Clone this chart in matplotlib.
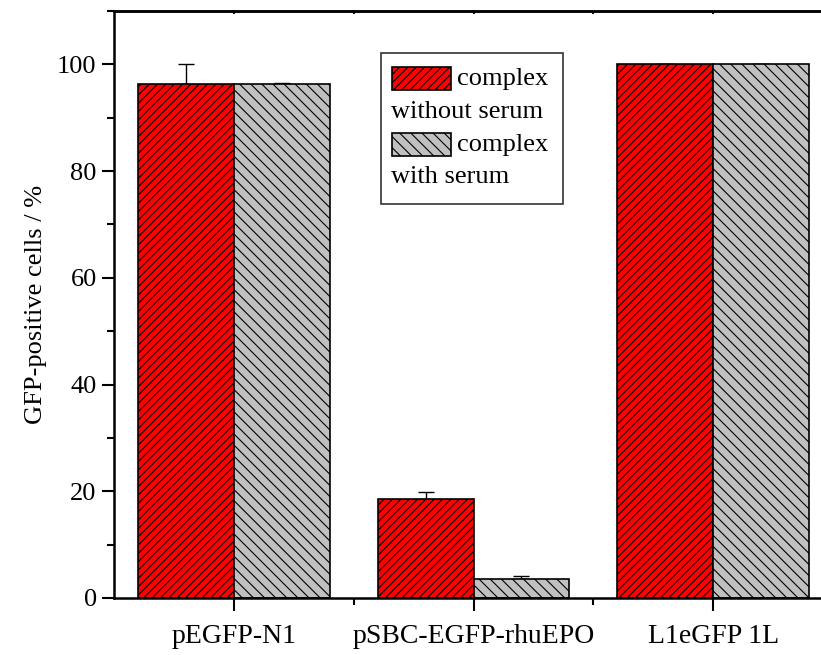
import matplotlib
matplotlib.use("Agg")
import matplotlib.pyplot as plt
from matplotlib.patches import Rectangle
from matplotlib.ticker import MultipleLocator, FixedLocator
import numpy as np

categories = ["pEGFP-N1", "pSBC-EGFP-rhuEPO", "L1eGFP 1L"]
without_serum = [96.4, 18.5, 100.0]
without_serum_err = [3.6, 1.3, 0.0]
with_serum = [96.3, 3.6, 100.0]
with_serum_err = [0.3, 0.6, 0.0]
legend_labels = [("complex", "without serum"), ("complex", "with serum")]
y_label = "GFP-positive cells / %"

plt.rcParams['font.family'] = ['Liberation Serif', 'DejaVu Serif']
plt.rcParams['hatch.linewidth'] = 0.8
plt.rcParams['hatch.color'] = 'black'

W, H = 821, 655
fig = plt.figure(figsize=(W / 100, H / 100), dpi=100)

def fx(px):
    return px / W

def fy(py):
    return 1 - py / H

ax = fig.add_axes([fx(114), fy(598), fx(833) - fx(114), fy(11) - fy(598)])

x = np.arange(len(categories))
bw = 0.4
red_hatch = '////'
gray_hatch = '\\\\\\'
ax.bar(x - bw / 2, without_serum, bw, color='#FF0000', edgecolor='black',
       linewidth=1.2, hatch=red_hatch, zorder=2)
ax.bar(x + bw / 2, with_serum, bw, color='#C0C0C0', edgecolor='black',
       linewidth=1.2, hatch=gray_hatch, zorder=2)
ax.errorbar(x - bw / 2, without_serum, yerr=[np.zeros(3), without_serum_err],
            fmt='none', ecolor='black', elinewidth=1, capsize=6, capthick=1, zorder=1)
ax.errorbar(x + bw / 2, with_serum, yerr=[np.zeros(3), with_serum_err],
            fmt='none', ecolor='black', elinewidth=1, capsize=6, capthick=1, zorder=1)

ax.set_xlim(-0.5, 2.5)
ax.set_ylim(0, 110)
ax.set_xticks(x)
ax.set_xticklabels(categories, fontsize=20)
ax.xaxis.set_minor_locator(FixedLocator([0.5, 1.5]))
ax.yaxis.set_minor_locator(MultipleLocator(10))
ax.set_yticks([0, 20, 40, 60, 80, 100])
ax.tick_params(axis='y', labelsize=19)
ax.tick_params(axis='both', which='major', direction='out', length=9, width=1.5)
ax.tick_params(axis='both', which='minor', direction='out', length=5, width=1.5)
ax.tick_params(axis='x', which='major', pad=10)
ax.set_ylabel(y_label, fontsize=19, labelpad=7)

for s in ax.spines.values():
    s.set_linewidth(1.8)
ax.spines['right'].set_visible(False)

# top ticks (small, inward)
ax_top = ax.secondary_xaxis('top')
ax_top.set_xticks([0, 0.5, 1, 1.5, 2])
ax_top.tick_params(direction='in', length=2, width=1.5, labeltop=False)
ax_top.spines['top'].set_linewidth(1.8)

# Legend (drawn manually to mimic wrapped labels)
fig.add_artist(Rectangle((fx(381), fy(204)), fx(563) - fx(381), fy(53) - fy(204),
                         transform=fig.transFigure, facecolor='white',
                         edgecolor='#333333', linewidth=1.2, zorder=5))
patch_specs = [('#FF0000', red_hatch, 67, 90), ('#C0C0C0', gray_hatch, 133, 156)]
line_y = [(79, 112), (145, 177)]
for (fc, hatch, top, bot), (l1, l2), (y1, y2) in zip(patch_specs, legend_labels, line_y):
    fig.add_artist(Rectangle((fx(392), fy(bot)), fx(451) - fx(392), fy(top) - fy(bot),
                             transform=fig.transFigure, facecolor=fc,
                             edgecolor='black', linewidth=1.2, hatch=hatch, zorder=6))
    fig.text(fx(457), fy(y1), l1, fontsize=19, va='center', ha='left', zorder=7)
    fig.text(fx(391), fy(y2), l2, fontsize=19, va='center', ha='left', zorder=7)

fig.savefig("out.png", dpi=100)
